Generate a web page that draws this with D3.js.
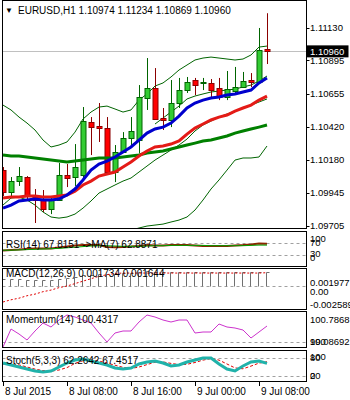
<!DOCTYPE html>
<html>
<head>
<meta charset="utf-8">
<script src="https://cdn.jsdelivr.net/npm/d3@7"></script>
<style>
body { margin: 0; background: #fff; }
text { font-family: "Liberation Sans", Arial, sans-serif; font-size: 10px; fill: #000; }
text.rl { font-size: 9.5px; }
</style>
</head>
<body>
<script>
// EURUSD H1 bars, 8 Jul 2015 00:00 .. 9 Jul 2015 09:00
var opens  = [1.10107,1.09949,1.10028,1.10057,1.09921,1.09899,1.09827,1.09892,1.10071,1.10057,1.10071,1.10452,1.10424,1.10409,1.10093,1.10237,1.10337,1.10323,1.10625,1.10697,1.10481,1.10467,1.10589,1.10682,1.10754,1.10733,1.10733,1.10697,1.10632,1.10675,1.10704,1.10754,1.10740,1.10974];
var highs  = [1.10129,1.10057,1.10129,1.10064,1.09971,1.09964,1.09921,1.10158,1.10151,1.10294,1.10560,1.10488,1.10589,1.10488,1.10287,1.10380,1.10488,1.10718,1.10912,1.10840,1.10553,1.10754,1.10769,1.10776,1.10769,1.10769,1.10761,1.10769,1.10819,1.10848,1.10812,1.10804,1.11128,1.11234];
var lows   = [1.09921,1.09913,1.09993,1.09899,1.09727,1.09806,1.09791,1.09885,1.09985,1.09993,1.10050,1.10215,1.10309,1.10079,1.10021,1.10230,1.10287,1.10230,1.10539,1.10467,1.10395,1.10416,1.10553,1.10661,1.10646,1.10682,1.10625,1.10610,1.10610,1.10661,1.10697,1.10704,1.10740,1.10869];
var closes = [1.09949,1.10028,1.10064,1.09928,1.09892,1.09827,1.09899,1.10071,1.10050,1.10129,1.10460,1.10416,1.10409,1.10093,1.10237,1.10337,1.10388,1.10632,1.10697,1.10474,1.10467,1.10589,1.10682,1.10740,1.10718,1.10740,1.10682,1.10632,1.10689,1.10704,1.10747,1.10740,1.10970,1.10960];

// moving averages
var maBlue  = [1.09834,1.09856,1.09885,1.09892,1.09899,1.09892,1.09892,1.09899,1.09928,1.09971,1.10036,1.10107,1.10151,1.10172,1.10201,1.10237,1.10273,1.10323,1.10373,1.10402,1.10416,1.10445,1.10495,1.10553,1.10589,1.10610,1.10625,1.10632,1.10646,1.10654,1.10668,1.10682,1.10733,1.10769];
var maRed   = [1.09906,1.09913,1.09913,1.09921,1.09921,1.09913,1.09913,1.09921,1.09928,1.09956,1.10000,1.10028,1.10064,1.10079,1.10093,1.10129,1.10165,1.10208,1.10244,1.10273,1.10280,1.10294,1.10316,1.10366,1.10409,1.10438,1.10467,1.10488,1.10503,1.10531,1.10553,1.10574,1.10610,1.10639];
var maGreen = [1.10215,1.10208,1.10208,1.10201,1.10194,1.10186,1.10179,1.10172,1.10165,1.10172,1.10179,1.10186,1.10194,1.10194,1.10194,1.10201,1.10208,1.10215,1.10230,1.10237,1.10244,1.10258,1.10273,1.10287,1.10301,1.10316,1.10323,1.10337,1.10352,1.10373,1.10388,1.10402,1.10416,1.10431];

// bands (thin lines)
var bandUpper   = [1.10574,1.10539,1.10488,1.10445,1.10395,1.10323,1.10273,1.10287,1.10309,1.10380,1.10474,1.10524,1.10560,1.10567,1.10546,1.10524,1.10539,1.10610,1.10654,1.10711,1.10733,1.10776,1.10826,1.10862,1.10898,1.10912,1.10919,1.10912,1.10905,1.10898,1.10905,1.10934,1.10991,1.10998];
var bandInnerUp = [null,null,null,null,null,null,null,null,null,null,null,null,null,null,null,null,null,null,null,1.10438,1.10481,1.10524,1.10567,1.10618,1.10639,1.10654,1.10668,1.10675,1.10682,1.10689,1.10704,1.10718,1.10747,1.10783];
var bandInner   = [1.09856,1.09906,1.09913,1.09892,1.09856,1.09806,1.09770,1.09762,1.09770,1.09791,1.09834,1.09885,1.09942,1.09971,1.10000,1.10028,1.10050,1.10093,1.10136,1.10179,1.10215,1.10251,1.10287,1.10330,1.10388,1.10431,1.10459,1.10488,1.10510,1.10531,1.10553,1.10574,1.10596,1.10618];
var bandLower   = [null,null,null,null,null,null,null,null,null,null,null,null,null,null,null,1.09662,1.09676,1.09691,1.09705,1.09712,1.09719,1.09734,1.09748,1.09770,1.09820,1.09892,1.09971,1.10036,1.10107,1.10179,1.10194,1.10194,1.10201,1.10280];

var priceTicks = [1.11130,1.10895,1.10655,1.10420,1.10180,1.09945,1.09705];
var lastPrice = 1.10960;

var rsi   = [45,47,48,50,52,52,52,55,58,62,63,63,63,57,56,57,58,60,63,62,62,63,63,63,62,60,60,60,60,62,63,65,68,67.8151];
var rsiMa = [46,46,47,48,49,50,51,52,54,56,58,60,61,61,60,59,59,59,60,61,61,62,62,62,62,62,61,61,61,61,61,62,63,62.8871];
var rsiLevels = [70,30];

var macdMain   = [0.0009,0.0009,0.0009,0.0008,0.0008,0.0008,0.0008,0.0009,0.0010,0.0011,0.0013,0.0014,0.0015,0.0015,0.0015,0.0016,0.0016,0.0017,0.0018,0.0017,0.0017,0.0017,0.0017,0.0017,0.0017,0.0017,0.0017,0.0017,0.0017,0.0017,0.0017,0.0017,0.0017,0.001734];
var macdSignal = [-0.00197,-0.0017,-0.0015,-0.0012,-0.0010,-0.0007,-0.0005,-0.0002,0.0000,0.0003,0.0006,0.0009,0.0012,0.0014,0.00155,0.0016,0.0016,0.0016,0.0016,0.0016,0.0016,0.0016,0.0016,0.0016,0.0016,0.0016,0.0016,0.0016,0.0016,0.0016,0.0016,0.0016,0.0016,0.001644];

var momentum = [99.865,100.351,100.216,100.054,100.297,100.513,100.405,100.594,100.729,100.675,100.594,100.513,100.243,100.000,100.243,100.297,100.297,100.540,100.729,100.675,100.594,100.540,100.594,100.594,100.243,100.270,100.270,100.486,100.405,100.378,100.324,100.108,100.270,100.4317];

var stochMain   = [63.3,56.7,50,43.3,36.7,33.3,36.7,50,63.3,73.3,76.7,70,63.3,56.7,46.7,43.3,46.7,60,66.7,70,63.3,53.3,56.7,66.7,73.3,80,80,60,43.3,36.7,53.3,66.7,70,62.2642];
var stochSignal = [60,60,57,50,43,38,36,40,48,62,71,74,70,63,56,49,45,50,58,66,67,62,58,59,65,73,78,73,60,47,44,53,63,67.4517];
var stochLevels = [80,20];

var timeTickIdx = [0,8,16,24,32];
var timeLabels  = ["8 Jul 2015","8 Jul 08:00","8 Jul 16:00","9 Jul 00:00","9 Jul 08:00"];

var idx = d3.range(closes.length);
var L = 2.5, R = 306.5;

var svg = d3.select('body').append('svg')
    .attr('width', 350)
    .attr('height', 400);

var x = d3.scaleLinear().domain([0, 33]).range([3, 267]);

//makes a bordered, clipped sub window
function panel(name, top, bottom) {
    svg.append('clipPath').attr('id', 'clip-' + name)
        .append('rect').attr('x', L).attr('y', top).attr('width', R - L).attr('height', bottom - top);
    var g = svg.append('g').attr('clip-path', 'url(#clip-' + name + ')');
    svg.append('rect')
        .attr('x', L).attr('y', top + 0.5)
        .attr('width', R - L).attr('height', bottom - top)
        .attr('fill', 'none').attr('stroke', '#000');
    return g;
}

function lineOf(values, yScale) {
    return d3.line()
        .defined((i) => values[i] != null)
        .x((i) => x(i))
        .y((i) => yScale(values[i]))(idx);
}

function levelLine(g, yScale, v) {
    g.append('line')
        .attr('x1', L).attr('x2', R)
        .attr('y1', Math.round(yScale(v)) + 0.5).attr('y2', Math.round(yScale(v)) + 0.5)
        .attr('stroke', '#a0a0a0').attr('stroke-dasharray', '3,3');
}

function rightLabel(txt, y, col) {
    var t = svg.append('text').attr('class', 'rl').attr('x', 310).attr('y', y).attr('dy', '0.35em').text(txt);
    if (col) t.style('fill', col);
    return t;
}

// ---------- main window ----------
var y = d3.scaleLinear().domain([1.09691, 1.11329]).range([228, 0]);
var main = panel('main', 0, 228);

main.append('line')
    .attr('x1', L).attr('x2', R)
    .attr('y1', Math.round(y(lastPrice)) + 0.5).attr('y2', Math.round(y(lastPrice)) + 0.5)
    .attr('stroke', '#c0c0c0');

[bandUpper, bandInnerUp, bandInner, bandLower].forEach((b) => {
    main.append('path').attr('d', lineOf(b, y))
        .attr('fill', 'none').attr('stroke', '#006400').attr('stroke-width', 1);
});

var bull = (i) => closes[i] >= opens[i];

main.selectAll('.wick').data(idx).enter().append('line')
    .attr('x1', (i) => x(i) + 0.5).attr('x2', (i) => x(i) + 0.5)
    .attr('y1', (i) => y(highs[i])).attr('y2', (i) => y(lows[i]))
    .attr('stroke', (i) => bull(i) ? '#006400' : '#8b0000');

main.selectAll('.body').data(idx).enter().append('rect')
    .attr('x', (i) => x(i) - 2)
    .attr('y', (i) => Math.round(y(Math.max(opens[i], closes[i]))) + 0.5)
    .attr('width', 5)
    .attr('height', (i) => Math.max(1, Math.round(Math.abs(y(opens[i]) - y(closes[i])))))
    .attr('fill', (i) => bull(i) ? '#33cc33' : '#ff0000')
    .attr('stroke', (i) => bull(i) ? '#006400' : '#8b0000')
    .attr('stroke-width', 1);

[[maGreen, '#008000'], [maRed, '#e41b17'], [maBlue, '#0000cd']].forEach((m) => {
    main.append('path').attr('d', lineOf(m[0], y))
        .attr('fill', 'none').attr('stroke', m[1]).attr('stroke-width', 3);
});

svg.append('text').attr('x', 5).attr('y', 13).style('font-size', '8px').text('\u25BC');
svg.append('text').attr('x', 18).attr('y', 14)
    .text('EURUSD,H1 ' + opens[33].toFixed(5) + ' ' + highs[33].toFixed(5) + ' ' + lows[33].toFixed(5) + ' ' + closes[33].toFixed(5));

priceTicks.forEach((p) => {
    svg.append('line').attr('x1', R).attr('x2', R + 3)
        .attr('y1', Math.round(y(p)) + 0.5).attr('y2', Math.round(y(p)) + 0.5).attr('stroke', '#000');
    rightLabel(p.toFixed(5), y(p));
});
svg.append('rect').attr('x', R).attr('y', y(lastPrice) - 6).attr('width', 42).attr('height', 12).attr('fill', '#000');
rightLabel(lastPrice.toFixed(5), y(lastPrice), '#fff');

// ---------- RSI ----------
var yRsi = d3.scaleLinear().domain([0, 100]).range([264, 234]);
var gRsi = panel('rsi', 231, 266);
rsiLevels.forEach((v) => levelLine(gRsi, yRsi, v));
gRsi.append('path').attr('d', lineOf(rsi, yRsi)).attr('fill', 'none').attr('stroke', '#8b2500').attr('stroke-width', 2);
gRsi.append('path').attr('d', lineOf(rsiMa, yRsi)).attr('fill', 'none').attr('stroke', '#00a000').attr('stroke-width', 1);
svg.append('text').attr('x', 6).attr('y', 248).text('RSI(14) 67.8151 ->MA(7) 62.8871');
rightLabel('100', 239); rightLabel('70', 243);
rightLabel('30', 254); rightLabel('0', 258);

// ---------- MACD ----------
var yMacd = d3.scaleLinear().domain([-0.002589, 0.001977]).range([307, 270]);
var gMacd = panel('macd', 268, 309);
levelLine(gMacd, yMacd, 0);
// histogram drawn as thin open bars
gMacd.selectAll('.hist').data(idx).enter().append('path')
    .attr('d', (i) => {
        var x0 = x(i) - 0.5, top = Math.round(yMacd(macdMain[i])) + 0.5, bot = Math.round(yMacd(0)) + 0.5;
        return 'M' + x0 + ',' + bot + 'V' + top + 'H' + (x0 + 3);
    })
    .attr('fill', 'none').attr('stroke', '#707070').attr('stroke-width', 1);
gMacd.append('path').attr('d', lineOf(macdSignal, yMacd))
    .attr('fill', 'none').attr('stroke', '#e00000').attr('stroke-dasharray', '2,2');
svg.append('text').attr('x', 6).attr('y', 277).text('MACD(12,26,9) 0.001734 0.001644');
rightLabel('0.001977', 283);
rightLabel('0.00', 292);
rightLabel('-0.002589', 305);

// ---------- Momentum ----------
var yMom = d3.scaleLinear().domain([99.865, 100.837]).range([347, 311]);
var gMom = panel('mom', 311, 347);
levelLine(gMom, yMom, 100);
gMom.append('path').attr('d', lineOf(momentum, yMom)).attr('fill', 'none').attr('stroke', '#cc33cc').attr('stroke-width', 1);
svg.append('text').attr('x', 6).attr('y', 323).text('Momentum(14) 100.4317');
rightLabel('100.7868', 320);
rightLabel('99.08692', 342);
rightLabel('100', 342);

// ---------- Stochastic ----------
var ySto = d3.scaleLinear().domain([0, 100]).range([382, 352]);
var gSto = panel('sto', 350, 381);
stochLevels.forEach((v) => levelLine(gSto, ySto, v));
gSto.append('path').attr('d', lineOf(stochSignal, ySto)).attr('fill', 'none').attr('stroke', '#e00000').attr('stroke-dasharray', '3,2');
gSto.append('path').attr('d', lineOf(stochMain, ySto)).attr('fill', 'none').attr('stroke', '#20b2aa').attr('stroke-width', 3);
svg.append('text').attr('x', 6).attr('y', 364).text('Stoch(5,3,3) 62.2642 67.4517');
rightLabel('100', 357); rightLabel('80', 358);
rightLabel('20', 376); rightLabel('0', 376);

// ---------- time axis ----------
timeTickIdx.forEach((t, k) => {
    svg.append('line').attr('x1', x(t) + 0.5).attr('x2', x(t) + 0.5).attr('y1', 382).attr('y2', 386).attr('stroke', '#000');
    svg.append('text').attr('x', x(t) + 2).attr('y', 395).text(timeLabels[k]);
});
</script>
</body>
</html>
